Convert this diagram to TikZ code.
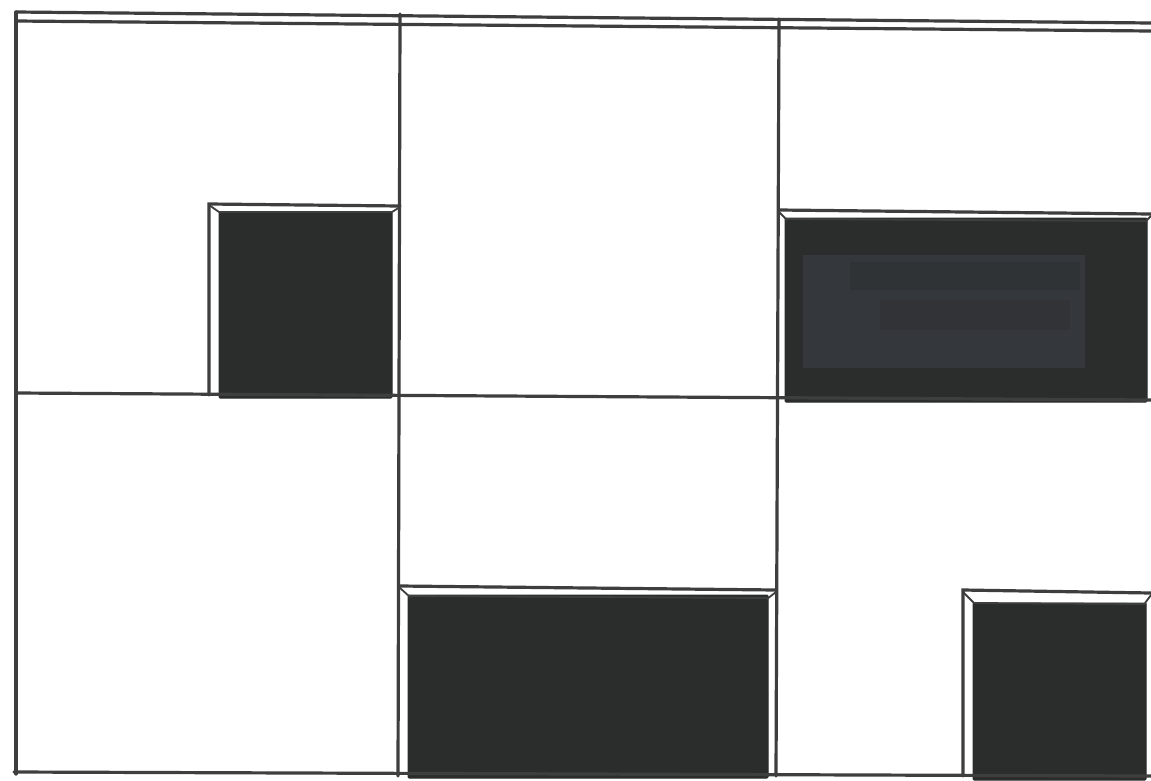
\documentclass[tikz,border=0pt]{standalone}
\begin{document}
\begin{tikzpicture}[x=1pt,y=-1pt,
  gridline/.style={draw=ink,line width=3.2pt,line cap=round},
  thinline/.style={draw=ink,line width=1.8pt,line cap=round},
  panel/.style={fill=fillc,draw=fillc,line width=1pt,rounded corners=1pt}]
\definecolor{ink}{HTML}{3E3E3E}
\definecolor{fillc}{HTML}{2B2D2D}
\definecolor{hint}{HTML}{3C414A}
\useasboundingbox[fill=white] (0,0) rectangle (1151,780);
% filled panels
\path[panel] (219,212) rectangle (392,398);
\path[panel] (785,218) rectangle (1147,402);
\path[fill=hint,opacity=0.55] (803,255) rectangle (1085,368);
\path[fill=fillc,opacity=0.35] (850,262) rectangle (1080,290);
\path[fill=fillc,opacity=0.3] (880,300) rectangle (1070,330);
\path[panel] (408,595) rectangle (768,778);
\path[panel] (973,603) rectangle (1146,780);
% grid
\coordinate (tl) at (16,12);
\coordinate (tr) at (1151,23);
\draw[gridline] (tl) -- (tr);
\draw[gridline] (16,21) -- (1151,31);
\draw[gridline] (tl) -- (16,774);
\draw[gridline] (400,14) -- (398,776);
\draw[gridline] (779,19) -- (776,776);
\draw[gridline] (16,393) -- (1151,400);
\draw[gridline] (14,772) -- (1151,776);
% frame top-left
\draw[gridline] (209,395) -- (209,204) -- (400,206);
\draw[thinline] (209,205) -- (219,212);
\draw[thinline] (400,207) -- (392,212);
\draw[thinline] (219,212) -- (392,212);
% frame top-right
\draw[gridline] (779,210) -- (1151,214);
\draw[thinline] (779,212) -- (787,220);
\draw[thinline] (1151,216) -- (1146,221);
\draw[thinline] (786,219) -- (1147,221);
% frame bottom-middle
\draw[gridline] (400,586) -- (776,590);
\draw[thinline] (400,588) -- (410,597);
\draw[thinline] (776,592) -- (767,599);
\draw[thinline] (409,596) -- (767,598);
% frame bottom-right
\draw[gridline] (963,776) -- (963,590) -- (1151,593);
\draw[thinline] (963,592) -- (974,603);
\draw[thinline] (1151,595) -- (1145,603);
\draw[thinline] (974,603) -- (1146,604);
\end{tikzpicture}
\end{document}
